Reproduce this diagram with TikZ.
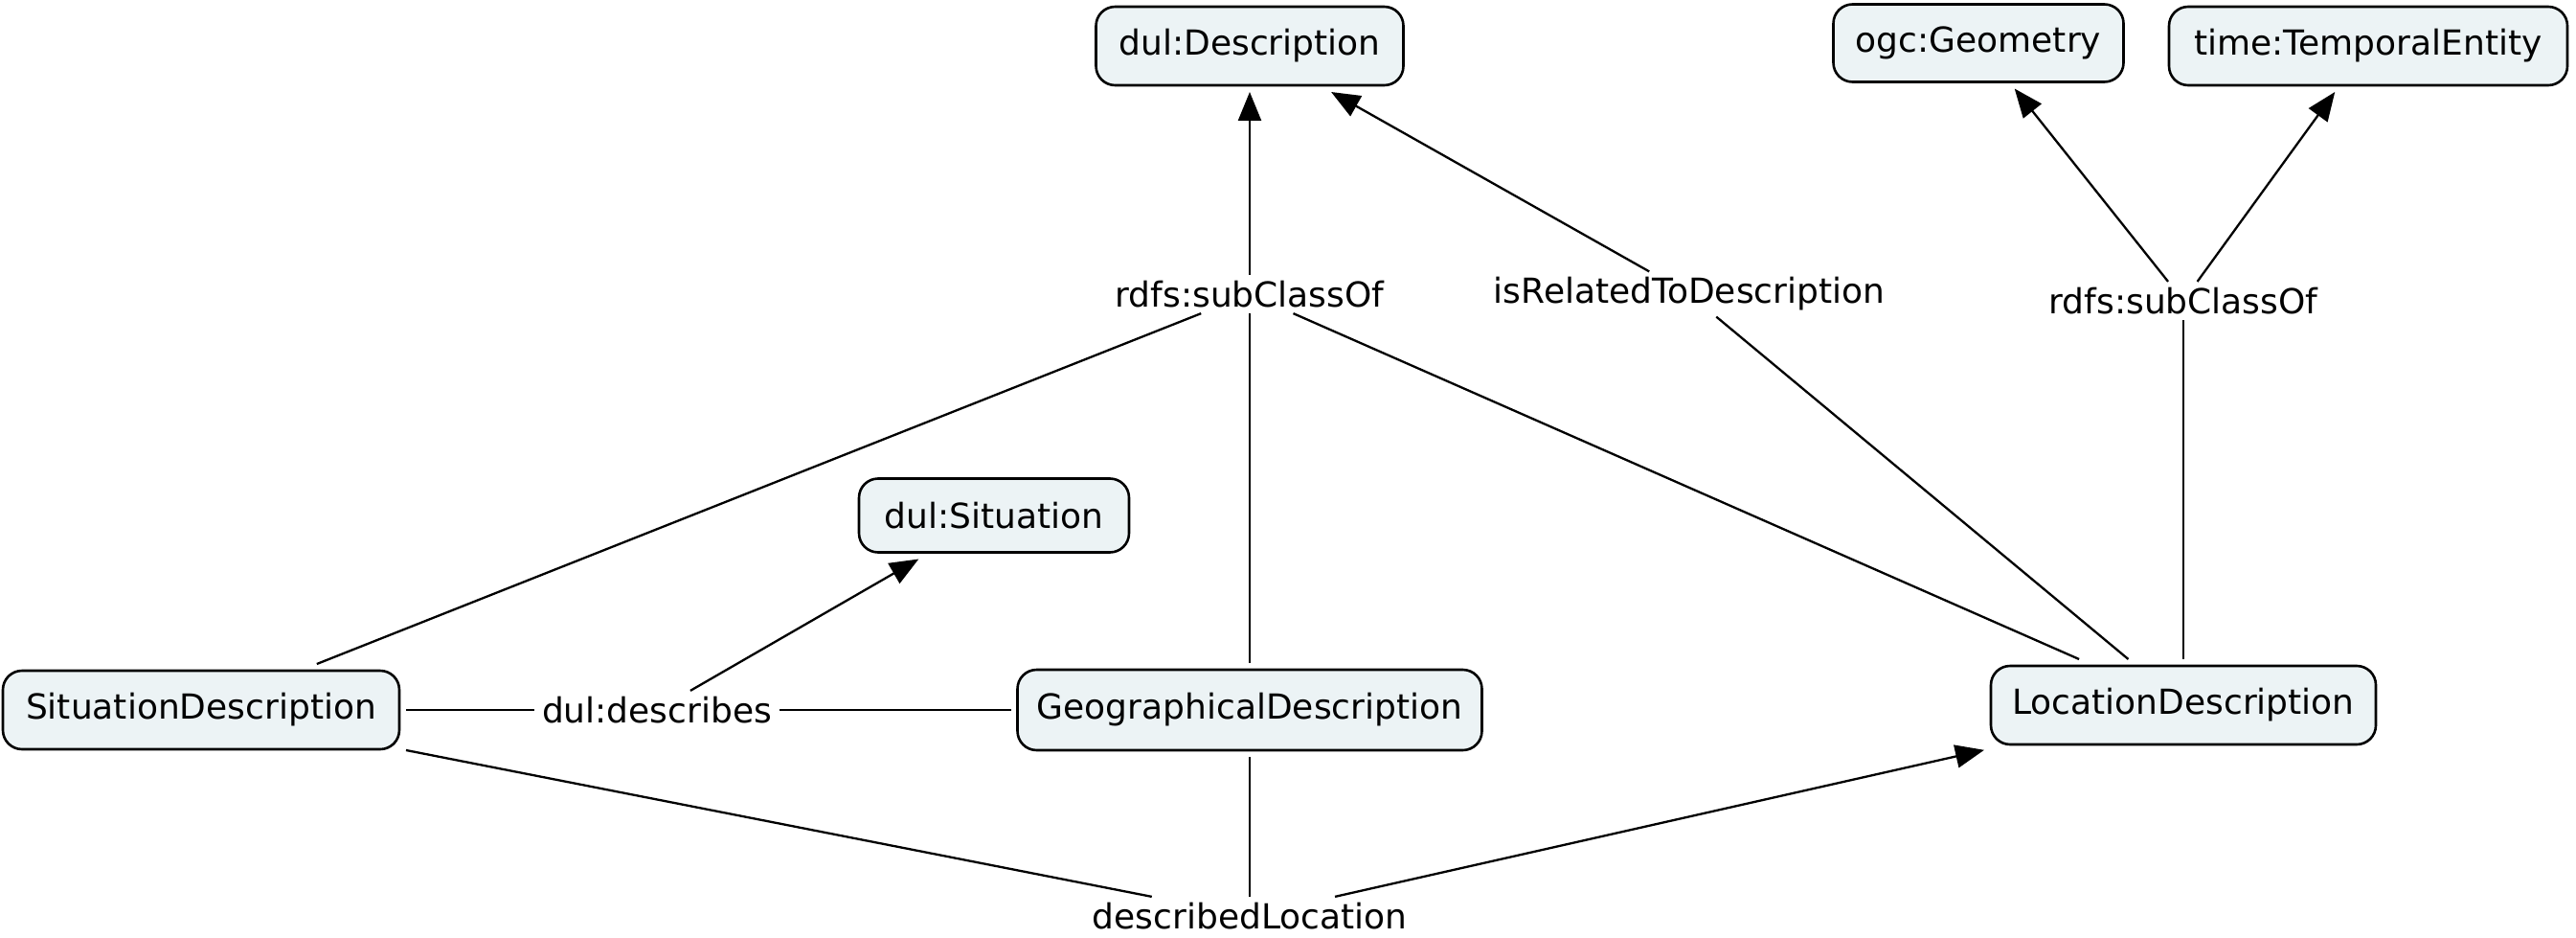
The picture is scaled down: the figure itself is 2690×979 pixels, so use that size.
\documentclass[tikz,border=0pt]{standalone}
\usepackage{fontspec}
\setmainfont{DejaVu Sans}
\usetikzlibrary{arrows.meta}
\definecolor{boxfill}{HTML}{ECF3F5}
\newcommand{\diafont}{\fontsize{36}{42}\selectfont}
\begin{document}
\begin{tikzpicture}[x=1pt,y=-1pt,
  cls/.style={draw, line width=2.6pt, rounded corners=20pt, fill=boxfill, inner sep=0pt, outer sep=7pt, font=\diafont},
  lbl/.style={inner xsep=8pt, inner ysep=6pt, font=\diafont},
  link/.style={line width=2.3pt},
  arr/.style={link, -{Triangle[length=30pt,width=24pt]}}]
\useasboundingbox (0,0) rectangle (2690,979);
% classes
\node[cls, minimum width=321pt, minimum height=82pt] (desc) at (1305,48) {dul:Description};
\node[cls, minimum width=303pt, minimum height=81pt] (geom) at (2066,45) {ogc:Geometry};
\node[cls, minimum width=416pt, minimum height=82pt] (temp) at (2473,48) {time:TemporalEntity};
\node[cls, minimum width=282pt, minimum height=77pt] (situation) at (1038,538) {dul:Situation};
\node[cls, minimum width=414pt, minimum height=82pt] (sitdesc) at (210,741) {SituationDescription};
\node[cls, minimum width=485pt, minimum height=84pt] (geodesc) at (1305,741) {GeographicalDescription};
\node[cls, minimum width=402pt, minimum height=82pt] (locdesc) at (2280,736) {LocationDescription};
% labels
\node[lbl] (sub1) at (1305,307) {rdfs:subClassOf};
\node[lbl] (isrel) at (1764,307) {isRelatedToDescription};
\node[lbl] (sub2) at (2280,314) {rdfs:subClassOf};
\node[lbl] (describes) at (686,741) {dul:describes};
\node[lbl] (dloc) at (1305,956) {describedLocation};
% edges
\draw[link] (sitdesc) -- (sub1);
\draw[link] (geodesc) -- (sub1);
\draw[link] (locdesc) -- (sub1);
\draw[arr] (sub1) -- (desc);
\draw[link] (locdesc) -- (isrel);
\draw[arr] (isrel) -- (desc);
\draw[link] (locdesc) -- (sub2);
\draw[arr] (sub2) -- (geom);
\draw[arr] (sub2) -- (temp);
\draw[link] (sitdesc) -- (describes);
\draw[link] (geodesc) -- (describes);
\draw[arr] (describes) -- (situation);
\draw[link] (sitdesc) -- (dloc);
\draw[link] (geodesc) -- (dloc);
\draw[arr] (dloc) -- (locdesc);
\end{tikzpicture}
\end{document}
